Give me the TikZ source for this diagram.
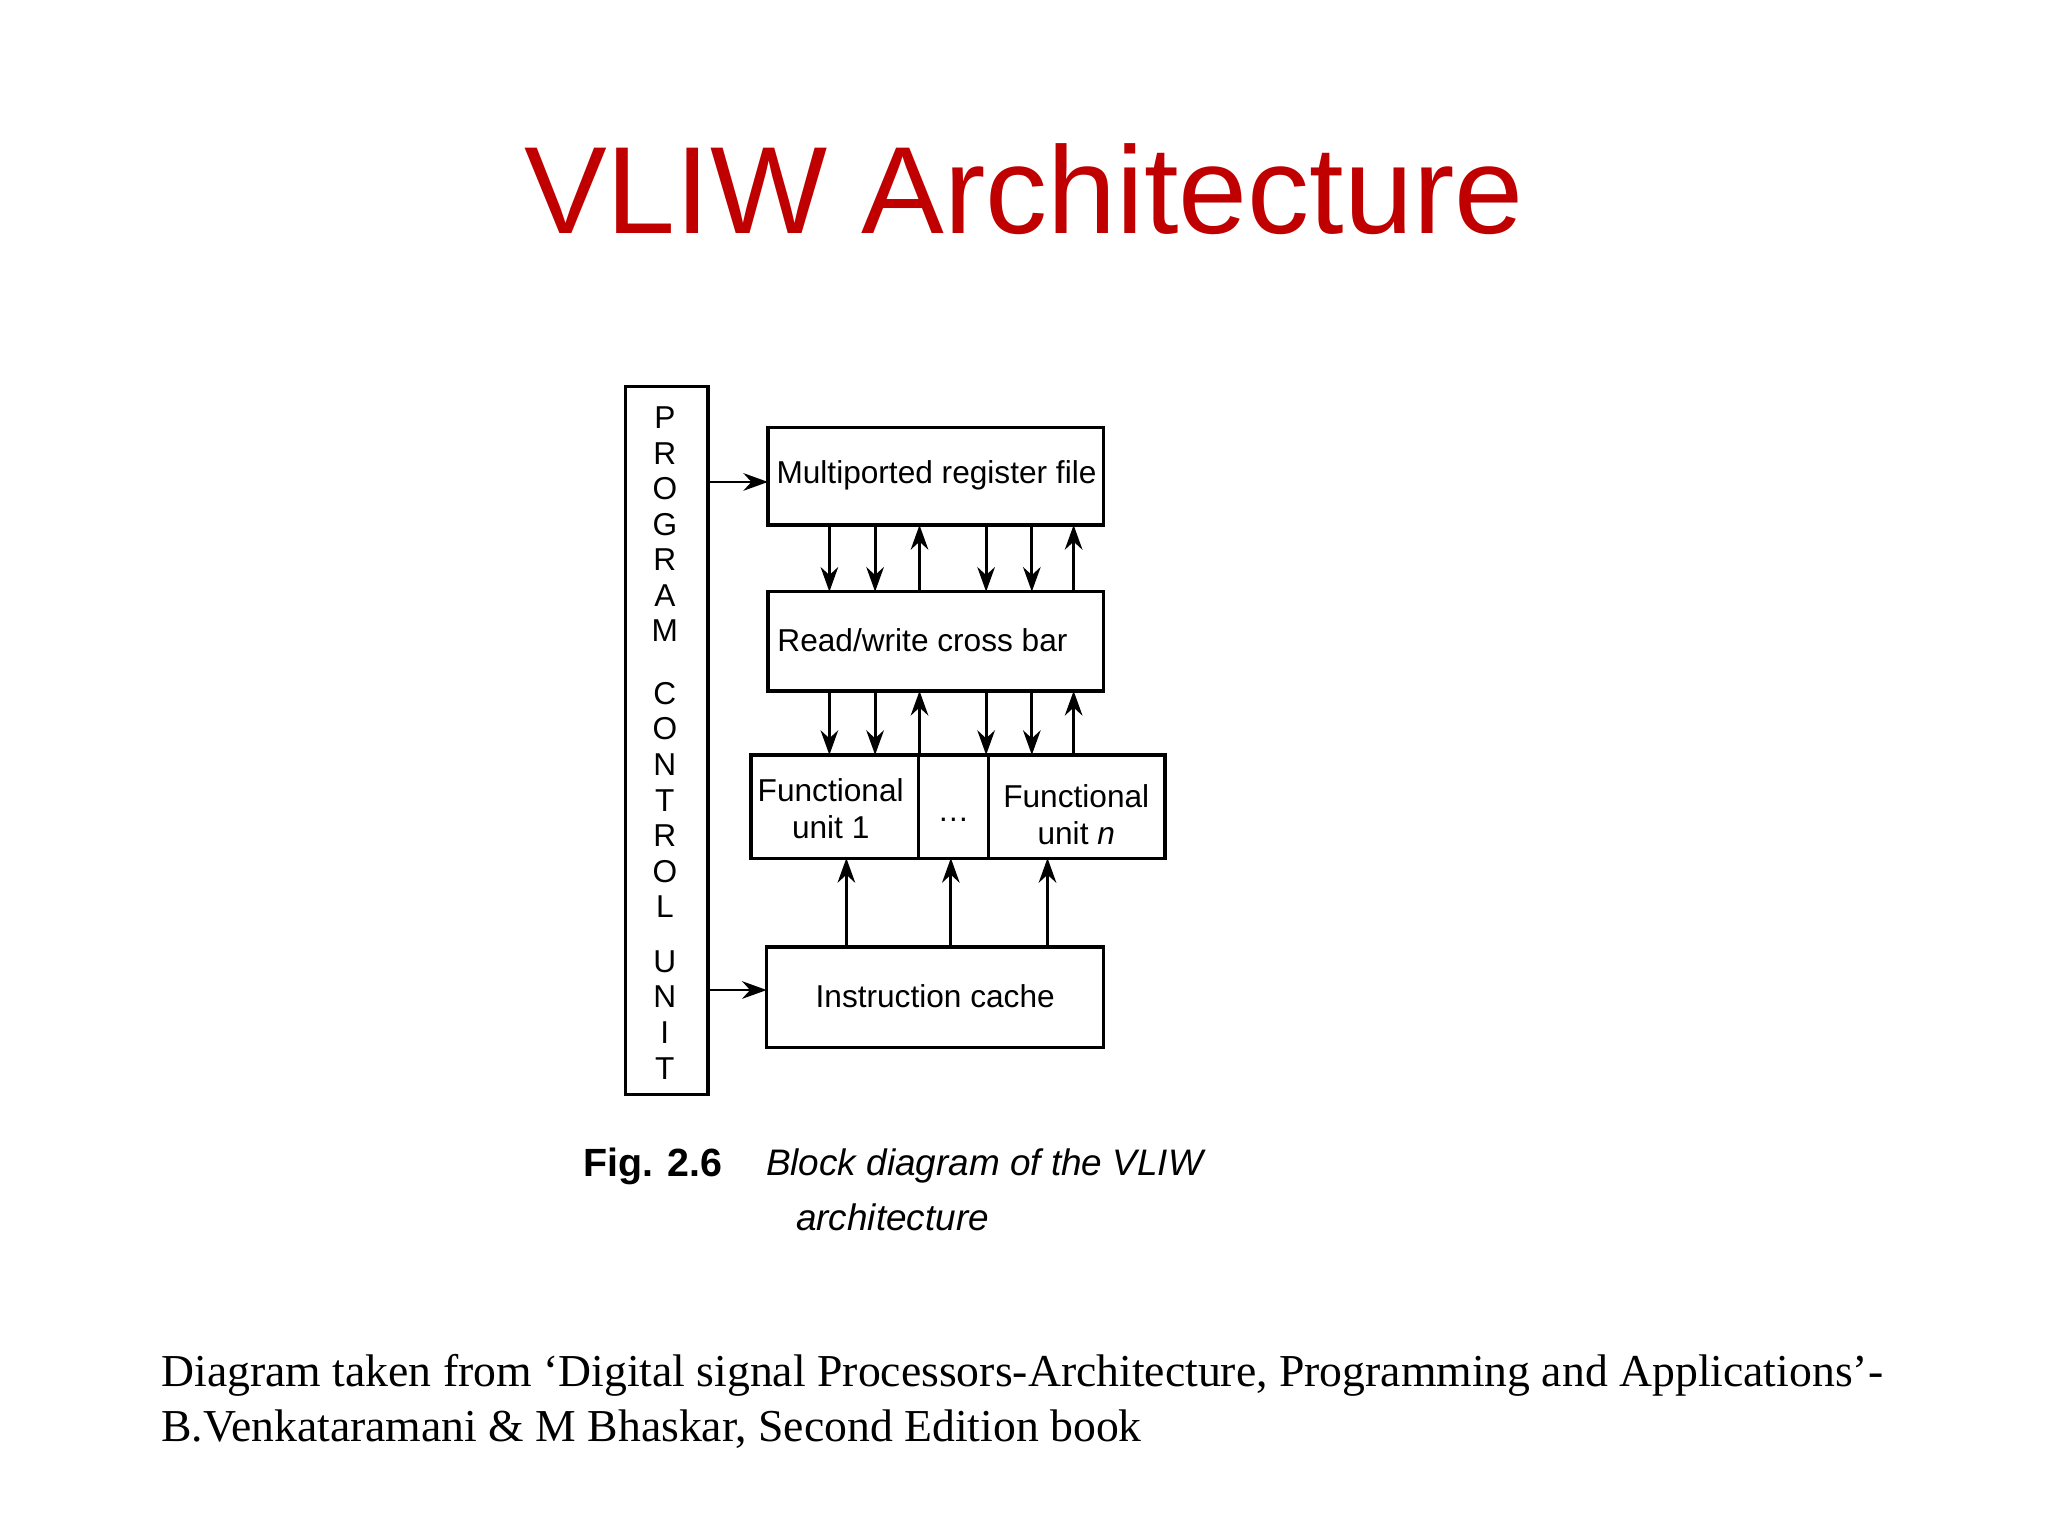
\documentclass[tikz,border=0pt]{standalone}
\usepackage{fontspec}
\setmainfont{Liberation Serif}
\setsansfont{Liberation Sans}
\usetikzlibrary{arrows.meta}
\definecolor{titlered}{RGB}{192,0,0}
\begin{document}
\begin{tikzpicture}[x=0.013061cm,y=-0.013061cm,
  blk/.style={draw,line width=0.9pt,inner sep=0pt},
  arr/.style={line width=0.8pt,-{Stealth[length=7pt,width=5pt]}},
  lbl/.style={font=\sffamily\fontsize{9}{10.5}\selectfont,align=center,inner sep=1pt}]
\useasboundingbox (0,0) rectangle (1568,1176);
\node[font=\sffamily\fontsize{35.3}{40}\selectfont,text=titlered] (title) at (784,145) {VLIW Architecture};
% program control unit
\draw[blk] (479,296) rectangle (542,838);
\coordinate (pcuR1) at (542,369);
\coordinate (pcuR2) at (542,758);
\foreach \l [count=\i] in {P,R,O,G,R,A,M}
  \node[lbl] (p\i) at (509,{320+27.2*(\i-1)}) {\l};
\foreach \l [count=\i] in {C,O,N,T,R,O,L}
  \node[lbl] (c\i) at (509,{531+27.2*(\i-1)}) {\l};
\foreach \l [count=\i] in {U,N,I,T}
  \node[lbl] (u\i) at (509,{736+27.3*(\i-1)}) {\l};
% boxes
\draw[blk] (588,327) rectangle (845,402);
\node[lbl] (reg) at (717,364) {Multiported register file};
\draw[blk] (588,453) rectangle (845,529);
\node[lbl,anchor=west] (xb) at (592,490) {Read/write cross bar};
\draw[blk] (575,578) rectangle (892,657);
\draw[blk] (703,578) -- (703,657);
\draw[blk] (757,578) -- (757,657);
\node[lbl] (fu1) at (636,619) {Functional\\unit 1};
\node[lbl] (dots) at (730,628) {\dots};
\node[lbl] (fun) at (824,624) {Functional\\unit \textit{n}};
\draw[blk] (587,725) rectangle (845,802);
\node[lbl] (ic) at (716,763) {Instruction cache};
% arrows
\draw[arr] (pcuR1) -- (588,369);
\draw[arr] (pcuR2) -- (587,758);
\foreach \x in {635,670,755,790} {
  \draw[arr] (\x,402) -- (\x,453);
  \draw[arr] (\x,529) -- (\x,578);
}
\foreach \x in {704,822} {
  \draw[arr] (\x,453) -- (\x,402);
  \draw[arr] (\x,578) -- (\x,529);
}
\foreach \x in {648,728,802}
  \draw[arr] (\x,725) -- (\x,657);
% caption
\node[font=\sffamily\bfseries\fontsize{11.2}{13}\selectfont,anchor=west,inner sep=0pt] (fig) at (446,893) {Fig. 2.6};
\node[font=\sffamily\itshape\fontsize{10.5}{13}\selectfont,anchor=west,inner sep=0pt] (cap1) at (586,893) {Block diagram of the VLIW};
\node[font=\sffamily\itshape\fontsize{10.5}{13}\selectfont,anchor=west,inner sep=0pt] (cap2) at (609,932) {architecture};
% source
\node[font=\fontsize{13}{15}\selectfont,anchor=west,inner sep=0pt] (src1) at (123,1053) {Diagram taken from ‘Digital signal Processors-Architecture, Programming and Applications’-};
\node[font=\fontsize{13}{15}\selectfont,anchor=west,inner sep=0pt] (src2) at (123,1094) {B.Venkataramani \& M Bhaskar, Second Edition book};
\end{tikzpicture}
\end{document}
